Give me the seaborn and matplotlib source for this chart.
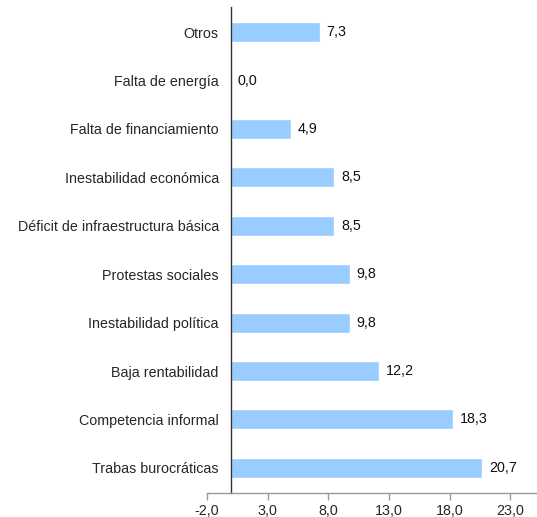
import matplotlib
matplotlib.use("Agg")
import matplotlib.pyplot as plt
import seaborn as sns
import pandas as pd

# --- Data ---
categories = [
    "Otros",
    "Falta de energía",
    "Falta de financiamiento",
    "Inestabilidad económica",
    "Déficit de infraestructura básica",
    "Protestas sociales",
    "Inestabilidad política",
    "Baja rentabilidad",
    "Competencia informal",
    "Trabas burocráticas",
]
values = [7.3, 0.0, 4.9, 8.5, 8.5, 9.8, 9.8, 12.2, 18.3, 20.7]
x_ticks = [-2.0, 3.0, 8.0, 13.0, 18.0, 23.0]


def fmt(v):
    return f"{v:.1f}".replace(".", ",")


def main():
    sns.set_style("white")
    plt.rcParams["font.family"] = ["Liberation Sans", "DejaVu Sans"]

    df = pd.DataFrame({"cat": categories, "val": values})

    fig = plt.figure(figsize=(5.37, 5.17), dpi=100)
    ax = fig.add_axes([207 / 537, 24 / 517, 330 / 537, 486 / 517])

    sns.barplot(data=df, x="val", y="cat", color="#99CCFF", width=0.41,
                saturation=1, ax=ax)

    for i, v in enumerate(values):
        ax.text(v + 0.55, i, fmt(v), va="center", ha="left", fontsize=10.3,
                color="#111111")

    ax.set_xlim(-2, 25.2)
    ax.set_ylim(9.52, -0.52)
    ax.set_xticks(x_ticks)
    ax.set_xticklabels([fmt(t) for t in x_ticks], fontsize=10.3)
    ax.set_xlabel("")
    ax.set_ylabel("")

    # spines
    ax.spines["top"].set_visible(False)
    ax.spines["right"].set_visible(False)
    ax.spines["left"].set_position(("data", 0))
    ax.spines["left"].set_color("#333333")
    ax.spines["left"].set_linewidth(1.0)
    ax.spines["bottom"].set_color("#999999")
    ax.spines["bottom"].set_linewidth(1.0)

    ax.tick_params(axis="y", length=0, pad=9, labelsize=10.3)
    ax.tick_params(axis="x", length=5, width=1, color="#999999", pad=3,
                   direction="out", bottom=True)
    ax.grid(False)

    fig.savefig("out.png", dpi=100)
    plt.close(fig)


if __name__ == "__main__":
    main()
